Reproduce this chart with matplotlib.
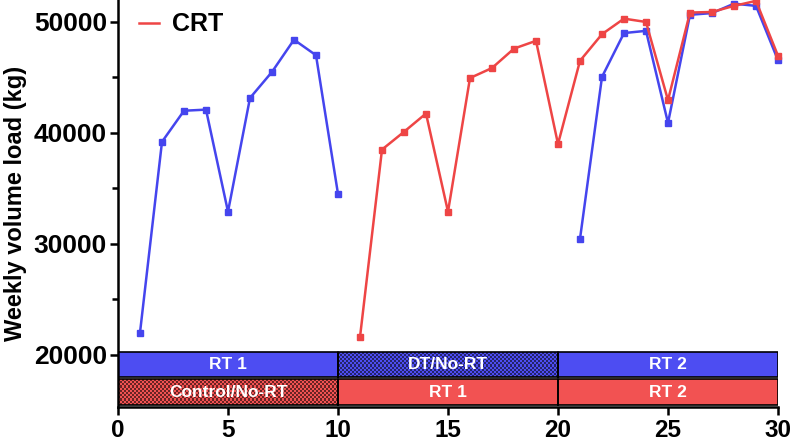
import numpy as np
import matplotlib
matplotlib.use("Agg")
import matplotlib.pyplot as plt
from matplotlib.lines import Line2D
from matplotlib.colors import ListedColormap

plt.rcParams['font.family'] = ['Liberation Sans', 'DejaVu Sans']

# weekly volume load (kg)
weeks_nrt = [1, 2, 3, 4, 5, 6, 7, 8, 9, 10, 21, 22, 23, 24, 25, 26, 27, 28, 29, 30]
load_nrt = [22000, 39200, 42000, 42100, 32900, 43150, 45500, 48400, 47000, 34500,
            30450, 45050, 49000, 49200, 40900, 50650, 50800, 51650, 51450, 46550]
weeks_crt = list(range(11, 31))
load_crt = [21600, 38500, 40100, 41750, 32900, 44950, 45850, 47600, 48300, 39000,
            46500, 48900, 50300, 50000, 42950, 50850, 50900, 51450, 51900, 46950]

# period bars: (start, end, label, checkered)
top_row = [(0, 10, "RT 1", False), (10, 20, "DT/No-RT", True), (20, 30, "RT 2", False)]
bottom_row = [(0, 10, "Control/No-RT", True), (10, 20, "RT 1", False), (20, 30, "RT 2", False)]

blue = "#4545ee"
red = "#ee4545"
blue_fill = "#4d4df2"
red_fill = "#f25252"

fig = plt.figure(figsize=(8, 4.45), dpi=100)
ax = fig.add_axes([0.1475, 0.0854, 0.825, 0.9146])

ax.plot(weeks_nrt[:10], load_nrt[:10], color=blue, lw=1.8, marker="s", ms=4.5, clip_on=False, zorder=4)
ax.plot(weeks_nrt[10:], load_nrt[10:], color=blue, lw=1.8, marker="s", ms=4.5, clip_on=False, zorder=4)
ax.plot(weeks_crt, load_crt, color=red, lw=1.8, marker="s", ms=4.5, clip_on=False, zorder=5)


def draw_row(row, y0, y1, fill, dark):
    for (a, b, label, checker) in row:
        if checker:
            nx, ny = 110, 12
            grid = (np.add.outer(np.arange(ny), np.arange(nx)) % 2)
            ax.imshow(grid, extent=[a, b, y0, y1], aspect="auto", interpolation="nearest",
                      cmap=ListedColormap([dark, fill]), zorder=2)
        else:
            ax.fill_between([a, b], y0, y1, color=fill, lw=0, zorder=2)
        ax.plot([a, b, b, a, a], [y0, y0, y1, y1, y0], color="black", lw=1.2, zorder=3)
        ax.text((a + b) / 2, (y0 + y1) / 2, label, color="white", fontsize=12.5,
                fontweight="bold", ha="center", va="center", zorder=4)


draw_row(top_row, 18000, 20250, blue_fill, "#24246a")
draw_row(bottom_row, 15500, 17800, red_fill, "#6a2424")

ax.set_xlim(0, 30)
ax.set_ylim(15300, 51980)
ax.set_xticks([0, 5, 10, 15, 20, 25, 30])
ax.set_yticks([20000, 30000, 40000, 50000])
ax.set_yticks([25000, 35000, 45000], minor=True)
ax.tick_params(axis="both", which="major", width=1.8, length=6, labelsize=19, pad=2)
ax.tick_params(axis="y", which="minor", width=1.8, length=4)
for lbl in ax.get_xticklabels() + ax.get_yticklabels():
    lbl.set_fontweight("bold")
ax.tick_params(axis="x", labelsize=17.5, pad=3)
for side in ["top", "right"]:
    ax.spines[side].set_visible(False)
for side in ["left", "bottom"]:
    ax.spines[side].set_linewidth(1.8)
ax.set_ylabel("Weekly volume load (kg)", fontsize=17, fontweight="bold", labelpad=5)

handles = [Line2D([0], [0], color=red, lw=1.8)]
ax.legend(handles, ["CRT"], loc="center left", bbox_to_anchor=(-0.002, 0.94), frameon=False,
          handlelength=0.8, handletextpad=0.5, prop={"weight": "bold", "size": 18})

fig.savefig("out.png", dpi=100)
